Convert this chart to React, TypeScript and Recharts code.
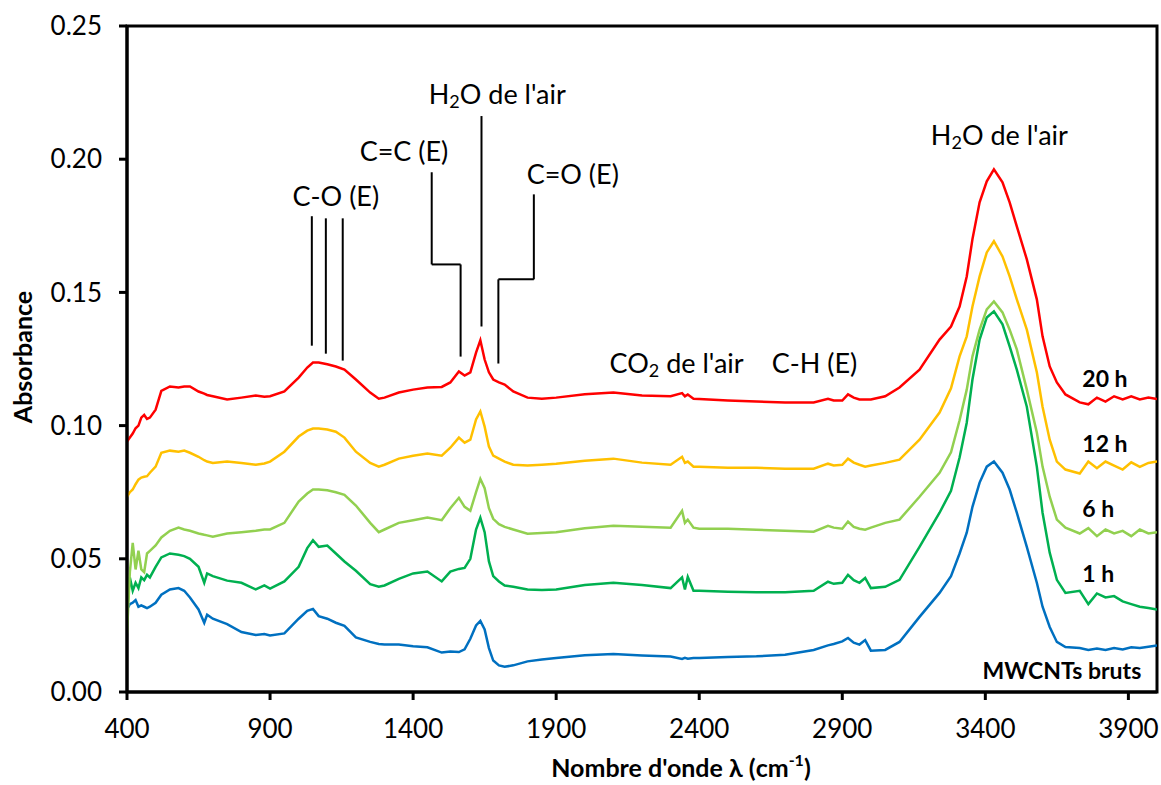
import React from 'react';
import {
  LineChart,
  Line,
  XAxis,
  YAxis,
  ReferenceLine,
  ReferenceDot,
  ReferenceArea,
} from 'recharts';

const FONT = 'Lato, "Open Sans", sans-serif';

// wavenumbers (cm-1) shared by all spectra
const WAVENUMBERS = [
  400, 410, 420, 430, 440, 450, 460, 470, 480, 500,
  520, 550, 580, 600, 620, 650, 670, 680, 700, 750,
  800, 850, 880, 900, 950, 1000, 1030, 1050, 1070, 1100,
  1130, 1160, 1200, 1250, 1280, 1300, 1350, 1400, 1450, 1500,
  1530, 1560, 1580, 1600, 1620, 1635, 1650, 1665, 1680, 1700,
  1720, 1750, 1800, 1850, 1900, 2000, 2100, 2200, 2300, 2340,
  2350, 2360, 2380, 2400, 2500, 2600, 2700, 2800, 2850, 2870,
  2900, 2920, 2940, 2960, 2980, 3000, 3050,
  3100, 3170, 3240, 3280, 3310, 3335, 3355, 3380, 3405, 3430,
  3460, 3485, 3510, 3545, 3580, 3600, 3625, 3650, 3680, 3730,
  3760, 3790, 3820, 3850, 3880, 3910, 3940, 3970, 4000,
];

const H20 = [
  0.094, 0.0955, 0.097, 0.099, 0.1, 0.103, 0.104, 0.1025, 0.103, 0.106,
  0.113, 0.1147, 0.1143, 0.1147, 0.1147, 0.1128, 0.112, 0.1115, 0.111, 0.1098,
  0.1105, 0.1113, 0.1108, 0.111, 0.1128, 0.118, 0.1218, 0.1237, 0.1237, 0.123,
  0.1222, 0.121, 0.1173, 0.1124, 0.1101, 0.1105, 0.1124, 0.1135, 0.1143, 0.1145,
  0.1162, 0.1203, 0.1188, 0.12, 0.1274, 0.132, 0.1248, 0.12, 0.1173, 0.1162,
  0.1154, 0.1128, 0.1105, 0.1101, 0.1105, 0.1118, 0.1124, 0.1113, 0.111, 0.1122,
  0.111, 0.1117, 0.1101, 0.11, 0.1094, 0.109, 0.1087, 0.1087, 0.1101, 0.1094,
  0.1094, 0.1117, 0.1105, 0.1098, 0.1098, 0.1098, 0.111,
  0.1143, 0.121, 0.1323, 0.1372, 0.1447, 0.156, 0.17, 0.1838, 0.1917, 0.1962,
  0.1913, 0.1838, 0.1748, 0.1624, 0.1474, 0.1335, 0.1222, 0.1162, 0.1117, 0.1087,
  0.108, 0.1105, 0.109, 0.111, 0.1098, 0.111, 0.1098, 0.1105, 0.11,
];

const H12 = [
  0.0733, 0.075, 0.076, 0.078, 0.0797, 0.0805, 0.0808, 0.081, 0.0823, 0.0846,
  0.0898, 0.0906, 0.0902, 0.0906, 0.0898, 0.0883, 0.087, 0.0865, 0.086, 0.0865,
  0.086, 0.0853, 0.0858, 0.0865, 0.0902, 0.0959, 0.0981, 0.0989, 0.0989, 0.0985,
  0.0977, 0.0955, 0.0902, 0.086, 0.0846, 0.0853, 0.0876, 0.0887, 0.0895, 0.0887,
  0.0917, 0.0955, 0.0936, 0.0947, 0.1023, 0.1053, 0.0996, 0.0921, 0.0887, 0.0876,
  0.0865, 0.0853, 0.085, 0.0853, 0.0857, 0.0868, 0.0876, 0.0861, 0.0853, 0.0883,
  0.086, 0.0865, 0.0846, 0.0846, 0.0842, 0.0842, 0.0838, 0.0838, 0.0857, 0.085,
  0.0853, 0.0876, 0.0861, 0.0853, 0.0846, 0.085, 0.086,
  0.0872, 0.0947, 0.1049, 0.114, 0.126, 0.1335, 0.1447, 0.156, 0.165, 0.1692,
  0.1635, 0.156, 0.1474, 0.136, 0.12, 0.1071, 0.0947, 0.0865, 0.0835, 0.082,
  0.0865, 0.084, 0.0865, 0.085, 0.0835, 0.0862, 0.0845, 0.086, 0.0865,
];

const H6 = [
  0.022, 0.045, 0.056, 0.046, 0.053, 0.046, 0.045, 0.052, 0.053, 0.055,
  0.058, 0.0605, 0.0617, 0.061, 0.0605, 0.0595, 0.059, 0.0588, 0.0583, 0.0595,
  0.06, 0.0605, 0.061, 0.061, 0.0635, 0.0715, 0.0745, 0.076, 0.076, 0.0757,
  0.075, 0.074, 0.07, 0.0635, 0.06, 0.061, 0.0635, 0.0645, 0.0655, 0.0645,
  0.069, 0.0729, 0.0695, 0.068, 0.075, 0.08, 0.0765, 0.069, 0.065, 0.063,
  0.062, 0.061, 0.0594, 0.0597, 0.06, 0.0615, 0.0624, 0.062, 0.0617, 0.068,
  0.0635, 0.0647, 0.0617, 0.0613, 0.0613, 0.0609, 0.0605, 0.0602, 0.0624, 0.0617,
  0.0613, 0.064, 0.062, 0.0613, 0.0609, 0.0617, 0.0635,
  0.0647, 0.0733, 0.0823, 0.09, 0.102, 0.1135, 0.126, 0.136, 0.1436, 0.1466,
  0.1425, 0.136, 0.1286, 0.1135, 0.0974, 0.0846, 0.0733, 0.0647, 0.0617, 0.0595,
  0.0615, 0.0585, 0.061, 0.0595, 0.0605, 0.0585, 0.061, 0.0595, 0.06,
];

const H1 = [
  0.03, 0.043, 0.038, 0.041, 0.039, 0.043, 0.042, 0.044, 0.043, 0.047,
  0.0505, 0.052, 0.0515, 0.051, 0.05, 0.047, 0.041, 0.0445, 0.0435, 0.0418,
  0.041, 0.0385, 0.04, 0.0388, 0.0415, 0.047, 0.054, 0.057, 0.0545, 0.055,
  0.052, 0.049, 0.0455, 0.0405, 0.0395, 0.04, 0.0425, 0.0445, 0.0452, 0.0415,
  0.0452, 0.0462, 0.0466, 0.05, 0.061, 0.0654, 0.06, 0.049, 0.0435, 0.0415,
  0.04, 0.0395, 0.0385, 0.0383, 0.0385, 0.0402, 0.041, 0.0402, 0.039, 0.043,
  0.0385, 0.0432, 0.038, 0.038, 0.0376, 0.0374, 0.0374, 0.038, 0.0414, 0.0406,
  0.041, 0.044, 0.042, 0.041, 0.0428, 0.039, 0.0395,
  0.0421, 0.0545, 0.0673, 0.0755, 0.088, 0.1011, 0.1173, 0.1323, 0.1406, 0.1429,
  0.138, 0.1297, 0.121, 0.1071, 0.0846, 0.0673, 0.0523, 0.0421, 0.0372, 0.038,
  0.033, 0.037, 0.0355, 0.036, 0.034, 0.033, 0.032, 0.0315, 0.031,
];

const BRUTS = [
  0.031, 0.033, 0.0335, 0.0345, 0.032, 0.0325, 0.032, 0.0315, 0.032, 0.0335,
  0.0365, 0.0385, 0.039, 0.038, 0.0355, 0.031, 0.026, 0.029, 0.0275, 0.0255,
  0.0225, 0.0214, 0.0218, 0.0212, 0.022, 0.0275, 0.0305, 0.0312, 0.0285, 0.0275,
  0.026, 0.0248, 0.0205, 0.0188, 0.018, 0.0178, 0.0178, 0.0172, 0.0168, 0.0148,
  0.0152, 0.015, 0.016, 0.02, 0.025, 0.0267, 0.0235, 0.0165, 0.0118, 0.01,
  0.0095, 0.01, 0.0115, 0.0122, 0.0128, 0.0138, 0.0143, 0.0137, 0.0133, 0.0124,
  0.0128, 0.0125, 0.0128, 0.0128, 0.0131, 0.0134, 0.014, 0.0158, 0.0175, 0.018,
  0.019, 0.0203, 0.0185, 0.0178, 0.0195, 0.0155, 0.0158,
  0.0188, 0.0282, 0.0372, 0.0435, 0.052, 0.0598, 0.0695, 0.0786, 0.0846, 0.0865,
  0.0823, 0.076, 0.0673, 0.0545, 0.041, 0.032, 0.0244, 0.0188, 0.0169, 0.0165,
  0.0158, 0.0163, 0.0158, 0.0165, 0.016, 0.0168, 0.0165, 0.017, 0.0175,
];

const X_TICKS = [400, 900, 1400, 1900, 2400, 2900, 3400, 3900];
const Y_TICKS = [0, 0.05, 0.1, 0.15, 0.2, 0.25];

const SERIES = [
  { key: 'bruts', name: 'MWCNTs bruts', values: BRUTS, color: '#0070C0' },
  { key: 'h1', name: '1 h', values: H1, color: '#00B050' },
  { key: 'h6', name: '6 h', values: H6, color: '#92D050' },
  { key: 'h12', name: '12 h', values: H12, color: '#FFC000' },
  { key: 'h20', name: '20 h', values: H20, color: '#FF0000' },
];

// peak assignments: text, optional subscript part, anchor point in data units
const PEAK_LABELS = [
  { pre: 'C-O (E)', x: 1130, y: 0.1865 },
  { pre: 'C=C (E)', x: 1368, y: 0.2034 },
  { pre: 'H', sub: '2', post: "O de l'air", x: 1694, y: 0.2248 },
  { pre: 'C=O (E)', x: 1958, y: 0.1947 },
  { pre: 'CO', sub: '2', post: " de l'air", x: 2321, y: 0.1237 },
  { pre: 'C-H (E)', x: 2803, y: 0.1237 },
  { pre: 'H', sub: '2', post: "O de l'air", x: 3449, y: 0.2094 },
];

// leader lines as polylines in data units
const LEADERS = [
  [[1046, 0.1786], [1046, 0.13]],
  [[1095, 0.1778], [1095, 0.127]],
  [[1154, 0.1778], [1154, 0.1244]],
  [[1465, 0.1951], [1465, 0.1605], [1566, 0.1605], [1566, 0.1259]],
  [[1639, 0.2162], [1639, 0.1372]],
  [[1822, 0.1868], [1822, 0.1549], [1698, 0.1549], [1698, 0.1233]],
];

const SERIES_LABELS = [
  { text: '20 h', x: 3739, y: 0.118, anchor: 'start' },
  { text: '12 h', x: 3739, y: 0.0936, anchor: 'start' },
  { text: '6 h', x: 3739, y: 0.0692, anchor: 'start' },
  { text: '1 h', x: 3739, y: 0.0447, anchor: 'start' },
  { text: 'MWCNTs bruts', x: 3945, y: 0.0083, anchor: 'end' },
];

function PeakText({ viewBox, pre, sub, post }: any) {
  const cx = viewBox.x + viewBox.width / 2;
  const cy = viewBox.y + viewBox.height / 2;
  return (
    <text x={cx} y={cy} textAnchor="middle" dominantBaseline="central"
      fontFamily={FONT} fontSize={27} fill="#000">
      {pre}
      {sub && <tspan dy={8} fontSize={18}>{sub}</tspan>}
      {post && <tspan dy={-8}>{post}</tspan>}
    </text>
  );
}

function SeriesText({ viewBox, text, anchor }: any) {
  const cx = viewBox.x + viewBox.width / 2;
  const cy = viewBox.y + viewBox.height / 2;
  return (
    <text x={cx} y={cy} textAnchor={anchor} dominantBaseline="central"
      fontFamily={FONT} fontSize={23} fontWeight="bold" fill="#000">
      {text}
    </text>
  );
}

function XTitle({ viewBox }: any) {
  const cx = viewBox.x + viewBox.width / 2 + 39;
  return (
    <text x={cx} y={viewBox.y + 75} textAnchor="middle" dominantBaseline="central"
      fontFamily={FONT} fontSize={25} fontWeight="bold" fill="#000">
      Nombre d'onde λ (cm
      <tspan dy={-8} fontSize={16}>-1</tspan>
      <tspan dy={8}>)</tspan>
    </text>
  );
}

function YTitle({ viewBox }: any) {
  const cy = viewBox.y + viewBox.height / 2 - 2;
  const cx = 22;
  return (
    <text x={cx} y={cy} textAnchor="middle" dominantBaseline="central"
      transform={`rotate(-90 ${cx} ${cy})`}
      fontFamily={FONT} fontSize={25} fontWeight="bold" fill="#000">
      Absorbance
    </text>
  );
}

export default function App() {
  const rows = WAVENUMBERS.map((w, i) => {
    const row: Record<string, number> = { w };
    SERIES.forEach((s) => { row[s.key] = s.values[i]; });
    return row;
  });

  const tickStyle = { fill: '#000', fontSize: 26, fontFamily: FONT };

  return (
    <div style={{ position: 'absolute', left: 0, top: 0, background: '#fff' }}>
      <LineChart width={1161} height={785} data={rows}
        margin={{ top: 26, right: 4, bottom: 0, left: 0 }}>
        <XAxis
          type="number"
          dataKey="w"
          domain={[400, 4000]}
          ticks={X_TICKS}
          allowDataOverflow
          height={93}
          tick={tickStyle}
          tickSize={8}
          tickMargin={20}
          tickLine={{ stroke: '#000', strokeWidth: 3 }}
          axisLine={{ stroke: '#000', strokeWidth: 3 }}
          label={<XTitle />}
        />
        <YAxis
          type="number"
          domain={[0, 0.25]}
          ticks={Y_TICKS}
          allowDataOverflow
          width={127}
          tick={tickStyle}
          tickSize={8}
          tickMargin={17}
          tickFormatter={(v: number) => v.toFixed(2)}
          tickLine={{ stroke: '#000', strokeWidth: 3 }}
          axisLine={{ stroke: '#000', strokeWidth: 3 }}
          label={<YTitle />}
        />
        <ReferenceArea x1={400} x2={4000} y1={0} y2={0.25}
          fill="none" stroke="#000" strokeWidth={3} ifOverflow="visible" />
        {SERIES.map((s) => (
          <Line key={s.key} type="linear" dataKey={s.key} name={s.name}
            stroke={s.color} strokeWidth={2.5} dot={false}
            isAnimationActive={false} />
        ))}
        {LEADERS.flatMap((pts, i) =>
          pts.slice(1).map((p, j) => (
            <ReferenceLine key={`ld-${i}-${j}`}
              segment={[{ x: pts[j][0], y: pts[j][1] }, { x: p[0], y: p[1] }]}
              stroke="#000" strokeWidth={2} />
          ))
        )}
        {PEAK_LABELS.map((l, i) => (
          <ReferenceDot key={`pk-${i}`} x={l.x} y={l.y} r={1}
            fill="none" stroke="none"
            label={<PeakText pre={l.pre} sub={l.sub} post={l.post} />} />
        ))}
        {SERIES_LABELS.map((l, i) => (
          <ReferenceDot key={`sl-${i}`} x={l.x} y={l.y} r={1}
            fill="none" stroke="none"
            label={<SeriesText text={l.text} anchor={l.anchor} />} />
        ))}
      </LineChart>
    </div>
  );
}
